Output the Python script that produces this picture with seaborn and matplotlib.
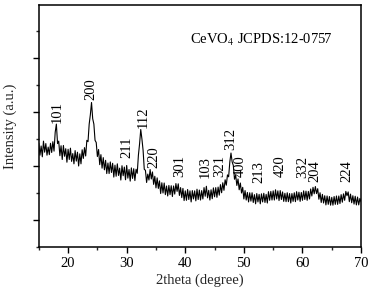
import numpy as np
import pandas as pd
import matplotlib
matplotlib.use("Agg")
import matplotlib.pyplot as plt
from matplotlib.ticker import MultipleLocator
import seaborn as sns

# intensity read every 0.2 deg from 15 to 70 deg (5 values per degree)
intensity = [
    284, 240, 274, 234, 292,   # 15
    251, 283, 240, 270, 242,   # 16
    284, 250, 290, 255, 325,   # 17
    355, 283, 292, 238, 275,   # 18
    224, 276, 236, 264, 214,   # 19
    262, 224, 266, 217, 246,   # 20
    208, 257, 218, 251, 200,   # 21
    245, 208, 260, 228, 268,   # 22
    237, 295, 290, 355, 390,   # 23
    435, 375, 355, 295, 287,   # 24
    235, 261, 205, 242, 192,   # 25
    231, 186, 221, 172, 211,   # 26
    172, 215, 176, 210, 159,   # 27
    203, 162, 208, 165, 192,   # 28
    148, 201, 164, 196, 149,   # 29
    202, 155, 187, 144, 193,   # 30
    154, 190, 146, 188, 173,   # 31
    240, 282, 335, 300, 258,   # 32
    188, 184, 139, 170, 148,   # 33
    187, 152, 178, 132, 162,   # 34
    119, 156, 117, 145, 98,    # 35
    138, 100, 137, 94, 126,    # 36
    89, 128, 94, 127, 87,      # 37
    126, 96, 135, 106, 134,    # 38
    91, 120, 83, 117, 72,      # 39
    108, 73, 113, 76, 108,     # 40
    67, 109, 78, 108, 71,      # 41
    114, 76, 111, 74, 109,     # 42
    78, 120, 88, 125, 82,      # 43
    110, 74, 112, 79, 119,     # 44
    86, 120, 84, 122, 92,      # 45
    131, 101, 138, 110, 149,   # 46
    129, 167, 160, 215, 248,   # 47
    215, 202, 151, 166, 128,   # 48
    152, 112, 137, 100, 121,   # 49
    78, 109, 74, 102, 67,      # 50
    101, 70, 101, 65, 94,      # 51
    60, 98, 67, 95, 60,        # 52
    97, 67, 99, 65, 95,        # 53
    63, 105, 73, 106, 74,      # 54
    108, 74, 112, 78, 108,     # 55
    72, 109, 76, 104, 69,      # 56
    99, 68, 101, 68, 98,       # 57
    63, 98, 69, 101, 68,       # 58
    105, 74, 103, 69, 102,     # 59
    73, 108, 76, 107, 73,      # 60
    106, 78, 115, 89, 121,     # 61
    97, 124, 98, 116, 77,      # 62
    101, 65, 95, 63, 90,       # 63
    56, 89, 58, 87, 55,        # 64
    84, 55, 87, 58, 89,        # 65
    58, 89, 61, 94, 66,        # 66
    97, 73, 106, 90, 104,      # 67
    68, 96, 64, 90, 59,        # 68
    88, 56, 85, 56, 80,        # 69
    67,                        # 70
]
two_theta = 15 + 0.2 * np.arange(len(intensity))

peak_labels = ["101", "200", "211", "112", "220", "301", "103", "321",
               "312", "400", "213", "420", "332", "204", "224"]
peak_pos = [18.1, 23.9, 30.1, 32.8, 34.7, 39.1, 43.4, 45.8,
            47.8, 49.3, 52.6, 56.2, 60.1, 62.1, 67.5]
label_base = [359, 444, 229, 340, 192, 159, 155, 159,
              259, 159, 137, 159, 155, 141, 141]

sns.set_style("ticks")
plt.rcParams['font.family'] = ['Liberation Serif', 'DejaVu Serif']
plt.rcParams['mathtext.fontset'] = 'stix'

fig = plt.figure(figsize=(3.73, 2.91), dpi=100)
ax = fig.add_axes([0.104, 0.151, 0.864, 0.832])

df = pd.DataFrame({"two_theta": two_theta, "intensity": intensity})
sns.lineplot(data=df, x="two_theta", y="intensity", ax=ax,
             color="black", linewidth=0.8)

for lab, xp, yb in zip(peak_labels, peak_pos, label_base):
    ax.text(xp, yb, lab, rotation=90, ha="center", va="bottom",
            fontsize=10.5, color="black")

ax.text(0.911, 0.855, r"CeVO$_4$ JCPDS:12-0757", transform=ax.transAxes,
        ha="right", va="center", fontsize=10.5, color="black")

ax.set_xlim(15, 70)
ax.set_ylim(-100, 796)
ax.xaxis.set_major_locator(MultipleLocator(10))
ax.xaxis.set_minor_locator(MultipleLocator(5))
ax.yaxis.set_major_locator(MultipleLocator(200))
ax.yaxis.set_minor_locator(MultipleLocator(100))
ax.tick_params(axis="both", which="major", direction="out", length=4,
               width=1, labelsize=10.5, colors="black")
ax.tick_params(axis="both", which="minor", direction="out", length=2.5, width=1)
ax.tick_params(axis="y", which="both", labelleft=False)
for sp in ax.spines.values():
    sp.set_visible(True)
    sp.set_linewidth(1.1)
    sp.set_color("black")

ax.set_xlabel("2theta (degree)", fontsize=10.5, labelpad=2)
ax.set_ylabel("Intensity (a.u.)", fontsize=10.5, labelpad=12)

fig.savefig("out.png", dpi=100)
